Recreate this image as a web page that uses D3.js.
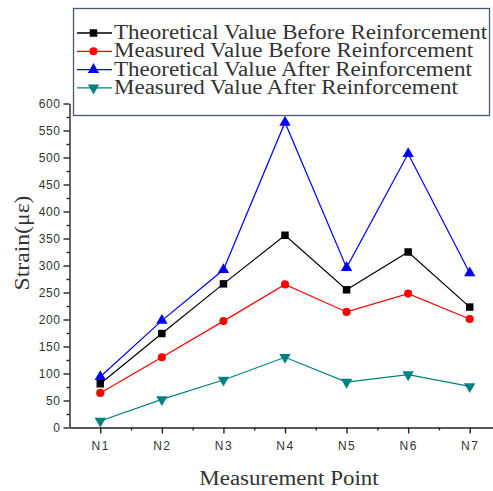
<!DOCTYPE html>
<html>
<head>
<meta charset="utf-8">
<script src="https://cdn.jsdelivr.net/npm/d3@7"></script>
<style>
  body { margin: 0; background: #fff; }
  svg { display: block; }
  .tick text { font-family: "Liberation Sans", Arial, sans-serif; fill: #333; }
</style>
</head>
<body>
<svg width="493" height="491"></svg>
<script>
// data
var points = ["N1", "N2", "N3", "N4", "N5", "N6", "N7"];
var theoryBefore = [81, 174, 266, 356, 255, 325, 223];
var measuredBefore = [64, 130, 197, 265, 214, 248, 201];
var theoryAfter = [94, 198, 292, 565, 296, 507, 286];
var measuredAfter = [12, 52, 88, 130, 84, 98, 76];
var seriesNames = [
  "Theoretical Value Before Reinforcement",
  "Measured Value Before Reinforcement",
  "Theoretical Value After Reinforcement",
  "Measured Value After Reinforcement"
];
var yTicks = [0, 50, 100, 150, 200, 250, 300, 350, 400, 450, 500, 550, 600];

var series = [
  { name: seriesNames[0], values: theoryBefore, color: "#000000", symbol: d3.symbolSquare, size: 56, rot: 0 },
  { name: seriesNames[1], values: measuredBefore, color: "#ff0000", symbol: d3.symbolCircle, size: 52, rot: 0 },
  { name: seriesNames[2], values: theoryAfter, color: "#0000ff", symbol: d3.symbolTriangle, size: 56, rot: 0 },
  { name: seriesNames[3], values: measuredAfter, color: "#008080", symbol: d3.symbolTriangle, size: 56, rot: 180 }
];

var svg = d3.select("svg");
var serif = "Liberation Serif, Times New Roman, serif";
var stretch = 1.15; // the original picture is a bit wider than tall

var x = d3.scaleLinear().domain([0.5, 7.5]).range([69.5, 500.5]);
var y = d3.scaleLinear().domain([0, 600]).range([427.5, 103.5]);

// y axis
var yAxis = svg.append("g")
  .attr("transform", "translate(69.5,0)")
  .call(d3.axisLeft(y).tickValues(yTicks).tickSize(6).tickPadding(3).tickSizeOuter(0));
yAxis.selectAll(".tick text").attr("font-size", 12).attr("letter-spacing", 0.6);
svg.append("g")
  .attr("transform", "translate(69.5,0)")
  .call(d3.axisLeft(y).tickValues(d3.range(25, 600, 50)).tickSize(3).tickFormat("").tickSizeOuter(0))
  .select(".domain").remove();

// x axis
var xAxis = svg.append("g")
  .attr("transform", "translate(0,427.5)")
  .call(d3.axisBottom(x).tickValues(d3.range(1, 8)).tickSize(6).tickPadding(8).tickSizeOuter(0)
    .tickFormat(function(d) { return points[d - 1]; }));
xAxis.selectAll(".tick text").attr("font-size", 12).attr("letter-spacing", 1.5);
svg.append("g")
  .attr("transform", "translate(0,427.5)")
  .call(d3.axisBottom(x).tickValues(d3.range(1.5, 8, 1)).tickSize(3).tickFormat("").tickSizeOuter(0))
  .select(".domain").remove();

svg.selectAll(".domain, .tick line").attr("stroke", "#222").attr("stroke-width", 1.4);

function widen(sel) {
  sel.each(function() {
    var w = this.getComputedTextLength();
    d3.select(this).attr("textLength", w * stretch).attr("lengthAdjust", "spacingAndGlyphs");
  });
}

// axis titles
svg.append("text")
  .attr("transform", "translate(29,243) rotate(-90)")
  .attr("text-anchor", "middle")
  .attr("font-family", serif)
  .attr("font-size", 22)
  .attr("fill", "#333")
  .text("Strain(με)")
  .attr("textLength", 95)
  .attr("lengthAdjust", "spacingAndGlyphs");

svg.append("text")
  .attr("x", 289)
  .attr("y", 485)
  .attr("text-anchor", "middle")
  .attr("font-family", serif)
  .attr("font-size", 20)
  .attr("fill", "#333")
  .text("Measurement Point")
  .call(widen);

// lines and markers
var line = d3.line()
  .x(function(d, i) { return x(i + 1); })
  .y(function(d) { return y(d); });

series.forEach(function(s) {
  var g = svg.append("g");
  g.append("path")
    .attr("d", line(s.values))
    .attr("fill", "none")
    .attr("stroke", s.color)
    .attr("stroke-width", 1.2);
  g.selectAll("path.mark")
    .data(s.values)
    .enter().append("path")
    .attr("class", "mark")
    .attr("d", d3.symbol().type(s.symbol).size(s.size))
    .attr("fill", s.color)
    .attr("transform", function(d, i) {
      return "translate(" + x(i + 1) + "," + y(d) + ") rotate(" + s.rot + ")";
    });
});

// legend
var legend = svg.append("g");
legend.append("rect")
  .attr("x", 73.5).attr("y", 8.5)
  .attr("width", 416).attr("height", 107)
  .attr("fill", "#fff")
  .attr("stroke", "#4a5878")
  .attr("stroke-width", 1.3);

series.forEach(function(s, i) {
  var ly = 33 + i * 18.3;
  legend.append("line")
    .attr("x1", 77).attr("x2", 112)
    .attr("y1", ly).attr("y2", ly)
    .attr("stroke", s.color).attr("stroke-width", 1.3);
  legend.append("path")
    .attr("d", d3.symbol().type(s.symbol).size(s.size))
    .attr("fill", s.color)
    .attr("transform", "translate(93.5," + ly + ") rotate(" + s.rot + ")");
  legend.append("text")
    .attr("x", 114)
    .attr("y", ly + 6)
    .attr("font-family", serif)
    .attr("font-size", 20)
    .attr("fill", "#333")
    .text(s.name)
    .call(widen);
});
</script>
</body>
</html>
